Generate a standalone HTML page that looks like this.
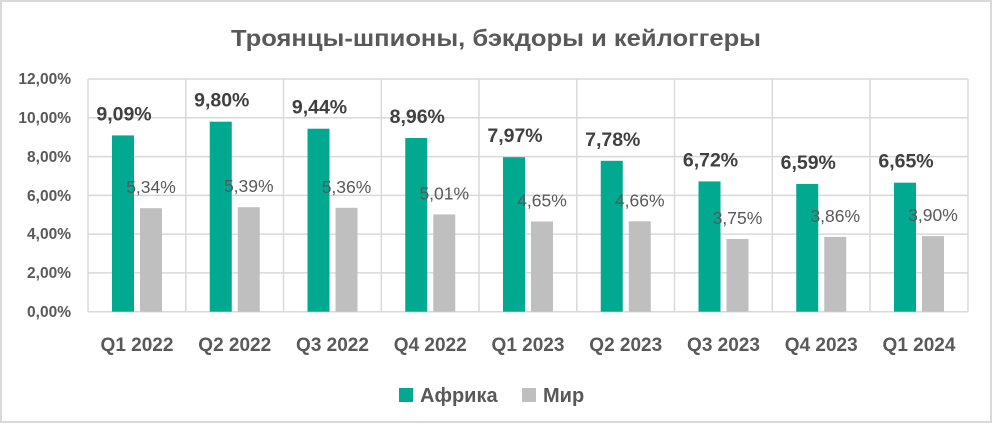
<!DOCTYPE html>
<html><head><meta charset="utf-8"><style>
html,body{margin:0;padding:0;background:#fff}
svg{display:block}
text{font-family:"Liberation Sans","DejaVu Sans",sans-serif}
</style></head><body>
<svg width="993" height="424" viewBox="0 0 993 424" xmlns="http://www.w3.org/2000/svg">
<rect x="1" y="1" width="990" height="421" fill="#fff" stroke="#d9d9d9" stroke-width="2"/>
<text x="496" y="46" text-anchor="middle" font-size="23" font-weight="bold" fill="#595959" textLength="530" lengthAdjust="spacingAndGlyphs">Троянцы-шпионы, бэкдоры и кейлоггеры</text>
<g stroke="#d9d9d9" stroke-width="1.5">
<line x1="88" y1="79" x2="968" y2="79"/>
<line x1="88" y1="117.8" x2="968" y2="117.8"/>
<line x1="88" y1="156.6" x2="968" y2="156.6"/>
<line x1="88" y1="195.4" x2="968" y2="195.4"/>
<line x1="88" y1="234.1" x2="968" y2="234.1"/>
<line x1="88" y1="272.9" x2="968" y2="272.9"/>
<line x1="88" y1="79" x2="88" y2="311.7"/>
<line x1="185.8" y1="79" x2="185.8" y2="311.7"/>
<line x1="283.5" y1="79" x2="283.5" y2="311.7"/>
<line x1="381.3" y1="79" x2="381.3" y2="311.7"/>
<line x1="479" y1="79" x2="479" y2="311.7"/>
<line x1="576.8" y1="79" x2="576.8" y2="311.7"/>
<line x1="674.5" y1="79" x2="674.5" y2="311.7"/>
<line x1="772.3" y1="79" x2="772.3" y2="311.7"/>
<line x1="870" y1="79" x2="870" y2="311.7"/>
<line x1="968" y1="79" x2="968" y2="311.7"/>
<line x1="88" y1="311.7" x2="968" y2="311.7"/>
</g>
<g font-size="15.5" font-weight="bold" fill="#595959" text-anchor="end">
<text x="71" y="84">12,00%</text>
<text x="71" y="123">10,00%</text>
<text x="71" y="162">8,00%</text>
<text x="71" y="201">6,00%</text>
<text x="71" y="239">4,00%</text>
<text x="71" y="278">2,00%</text>
<text x="71" y="317">0,00%</text>
</g>
<g fill="#00a98f">
<rect x="112" y="135.4" width="22" height="176.3"/>
<rect x="209.75" y="121.7" width="22" height="190"/>
<rect x="307.5" y="128.7" width="22" height="183"/>
<rect x="405.25" y="138" width="22" height="173.7"/>
<rect x="503" y="157.2" width="22" height="154.5"/>
<rect x="600.75" y="160.8" width="22" height="150.9"/>
<rect x="698.5" y="181.4" width="22" height="130.3"/>
<rect x="796.25" y="183.9" width="22" height="127.8"/>
<rect x="894" y="182.7" width="22" height="129"/>
</g>
<g fill="#bfbfbf">
<rect x="140" y="208.2" width="22" height="103.5"/>
<rect x="237.75" y="207.2" width="22" height="104.5"/>
<rect x="335.5" y="207.8" width="22" height="103.9"/>
<rect x="433.25" y="214.4" width="22" height="97.3"/>
<rect x="531" y="221.5" width="22" height="90.2"/>
<rect x="628.75" y="221.3" width="22" height="90.4"/>
<rect x="726.5" y="239" width="22" height="72.7"/>
<rect x="824.25" y="236.9" width="22" height="74.8"/>
<rect x="922" y="236.1" width="22" height="75.6"/>
</g>
<g font-size="19.5" font-weight="bold" fill="#404040" text-anchor="middle">
<text x="124" y="120.4">9,09%</text>
<text x="221.75" y="106.7">9,80%</text>
<text x="319.5" y="113.7">9,44%</text>
<text x="417.25" y="123">8,96%</text>
<text x="515" y="142.2">7,97%</text>
<text x="612.75" y="145.8">7,78%</text>
<text x="710.5" y="166.4">6,72%</text>
<text x="808.25" y="168.9">6,59%</text>
<text x="906" y="167.7">6,65%</text>
</g>
<g font-size="17.5" fill="#595959" text-anchor="middle">
<text x="151" y="193.2">5,34%</text>
<text x="248.75" y="192.2">5,39%</text>
<text x="346.5" y="192.8">5,36%</text>
<text x="444.25" y="199.4">5,01%</text>
<text x="542" y="206.5">4,65%</text>
<text x="639.75" y="206.3">4,66%</text>
<text x="737.5" y="224">3,75%</text>
<text x="835.25" y="221.9">3,86%</text>
<text x="933" y="221.1">3,90%</text>
</g>
<g font-size="19" font-weight="bold" fill="#595959" text-anchor="middle">
<text x="137" y="351">Q1 2022</text>
<text x="234.75" y="351">Q2 2022</text>
<text x="332.5" y="351">Q3 2022</text>
<text x="430.25" y="351">Q4 2022</text>
<text x="528" y="351">Q1 2023</text>
<text x="625.75" y="351">Q2 2023</text>
<text x="723.5" y="351">Q3 2023</text>
<text x="821.25" y="351">Q4 2023</text>
<text x="919" y="351">Q1 2024</text>
</g>
<rect x="399" y="388" width="14" height="14" fill="#00a98f"/>
<text x="420" y="402" font-size="20" font-weight="bold" fill="#595959">Африка</text>
<rect x="522" y="388" width="14" height="14" fill="#bfbfbf"/>
<text x="543" y="402" font-size="20" font-weight="bold" fill="#595959">Мир</text>
</svg>
</body></html>
